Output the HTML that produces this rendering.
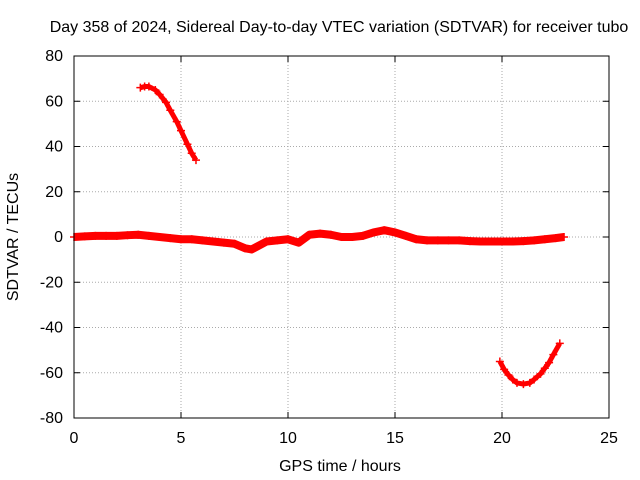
<!DOCTYPE html>
<html><head><meta charset="utf-8"><style>
body{margin:0;background:#fff}
svg{display:block;font-family:"Liberation Sans",sans-serif;font-size:16px}
</style></head><body>
<svg width="640" height="480">
<text x="339" y="32" text-anchor="middle">Day 358 of 2024, Sidereal Day-to-day VTEC variation (SDTVAR) for receiver tubo</text>
<g id="grid"></g>
<g id="axes"></g>
<g id="series"></g>
<rect x="74" y="56" width="535" height="362" fill="none" stroke="#000"/>
<text x="340" y="471" text-anchor="middle">GPS time / hours</text>
<text transform="translate(18,237) rotate(-90)" text-anchor="middle">SDTVAR / TECUs</text>
</svg>
<script>
const xTicks=[0,5,10,15,20,25];
const yTicks=[80,60,40,20,0,-20,-40,-60,-80];
const mainT=[0,0.5,1,1.5,2,2.5,3,3.5,4,4.5,5,5.5,6,6.5,7,7.5,8,8.3,8.6,9,9.5,10,10.5,11,11.5,12,12.5,13,13.5,14,14.5,15,15.5,16,16.5,17,17.5,18,18.5,19,19.5,20,20.5,21,21.5,22,22.5,22.9];
const mainV=[0,0.3,0.5,0.5,0.5,0.8,1,0.5,0,-0.5,-1,-1,-1.5,-2,-2.5,-3,-5,-5.5,-4,-2,-1.5,-1,-2.5,1,1.5,1,0,0,0.5,2,3,2,0.5,-1,-1.5,-1.5,-1.5,-1.5,-1.8,-2,-2,-2,-2,-1.8,-1.5,-1,-0.5,0];
const arc1T=[3.1,3.3,3.5,3.8,4,4.3,4.5,4.8,5,5.3,5.5,5.7];
const arc1V=[66,66.5,66.5,65,63,59.5,56,51,47,41,37,34];
const arc2T=[19.9,20.1,20.3,20.5,20.7,21,21.3,21.5,21.8,22,22.2,22.4,22.7];
const arc2V=[-55,-58.5,-61,-63,-64.5,-65,-64.5,-63,-60.5,-58,-55.5,-52,-47];
const X=t=>74+t*535/25, Y=v=>237-v*362/160;
const NS="http://www.w3.org/2000/svg";
const g=document.getElementById('grid'),a=document.getElementById('axes'),s=document.getElementById('series');
function mk(tag,at,p){const e=document.createElementNS(NS,tag);for(const k in at)e.setAttribute(k,at[k]);p.appendChild(e);return e;}
xTicks.forEach(t=>{
 if(t>0&&t<25){const l=mk('line',{x1:X(t),x2:X(t),y1:56,y2:418,stroke:'#aaa','stroke-dasharray':'1,2'},g);
 
 }
 mk('line',{x1:X(t),x2:X(t),y1:418,y2:412,stroke:'#000'},a);
 mk('line',{x1:X(t),x2:X(t),y1:56,y2:62,stroke:'#000'},a);
 const tx=mk('text',{x:X(t),y:443,'text-anchor':'middle'},a);tx.textContent=t;
 
 
});
yTicks.forEach(v=>{
 if(v<80&&v>-80){const l=mk('line',{x1:74,x2:609,y1:Y(v),y2:Y(v),stroke:'#aaa','stroke-dasharray':'1,2'},g);
 
 }
 mk('line',{x1:74,x2:80,y1:Y(v),y2:Y(v),stroke:'#000'},a);
 mk('line',{x1:603,x2:609,y1:Y(v),y2:Y(v),stroke:'#000'},a);
 const tx=mk('text',{x:63,y:Y(v)+5,'text-anchor':'end'},a);tx.textContent=v;
 
 
});
function series(T,V,w,name){
 const pts=T.map((t,i)=>X(t)+','+Y(V[i])).join(' ');
 const pl=mk('polyline',{points:pts,fill:'none',stroke:'#f00','stroke-width':w,'stroke-linejoin':'round'},s);
 
 
 T.forEach((t,i)=>{const x=X(t),y=Y(V[i]);
  const p=mk('path',{d:`M${x-4},${y}h8M${x},${y-4}v8`,stroke:'#f00','stroke-width':1.5},s);
  
  });
}
series(mainT,mainV,8,'main-series');
series(arc1T,arc1V,5,'arc-series-1');
series(arc2T,arc2V,5,'arc-series-2');
</script>
</body></html>
